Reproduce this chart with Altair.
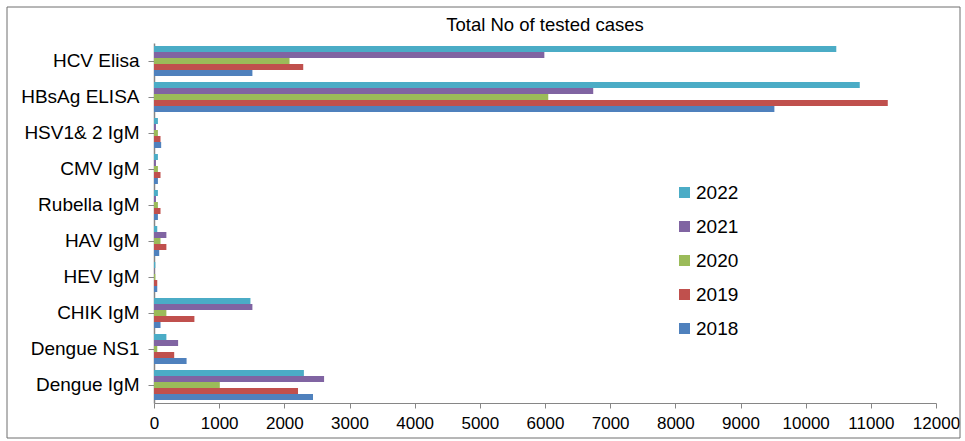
import altair as alt
import pandas as pd

categories = ["HCV Elisa", "HBsAg ELISA", "HSV1& 2 IgM", "CMV IgM", "Rubella IgM",
              "HAV IgM", "HEV IgM", "CHIK IgM", "Dengue NS1", "Dengue IgM"]
years = ["2022", "2021", "2020", "2019", "2018"]
v2022 = [10470, 10830, 60, 60, 60, 50, 20, 1480, 190, 2300]
v2021 = [5990, 6740, 30, 30, 30, 190, 5, 1510, 370, 2610]
v2020 = [2080, 6050, 60, 60, 60, 100, 20, 190, 50, 1010]
v2019 = [2290, 11260, 100, 100, 100, 190, 50, 620, 310, 2210]
v2018 = [1510, 9520, 110, 60, 60, 80, 50, 100, 500, 2440]
colors = ["#4BACC6", "#8064A2", "#9BBB59", "#C0504D", "#4F81BD"]
title_text = "Total No of tested cases"

series = {"2022": v2022, "2021": v2021, "2020": v2020, "2019": v2019, "2018": v2018}
rows = []
for y in years:
    for c, v in zip(categories, series[y]):
        rows.append({"test": c, "year": y, "value": v})
df = pd.DataFrame(rows)

FONT = "Liberation Sans"

bars = alt.Chart(df).mark_bar().encode(
    y=alt.Y("test:N", sort=categories,
            scale=alt.Scale(paddingInner=1/6, paddingOuter=1/12),
            axis=alt.Axis(title=None, labelFontSize=19, labelFont=FONT, labelColor="#000",
                          tickSize=6, labelPadding=9, domainColor="#868686",
                          tickColor="#868686", domainWidth=1.5)),
    yOffset=alt.YOffset("year:N", sort=years, scale=alt.Scale(domain=years, paddingInner=0, paddingOuter=0)),
    x=alt.X("value:Q", scale=alt.Scale(domain=[0, 12000], nice=False),
            axis=alt.Axis(title=None, values=list(range(0, 12001, 1000)), format="d",
                          grid=False, labelFontSize=17, labelFont=FONT, labelOverlap=False,
                          labelFlush=False, labelBound=False,
                          labelColor="#000", tickSize=5, labelPadding=7,
                          domainColor="#868686", tickColor="#868686")),
    color=alt.Color("year:N", scale=alt.Scale(domain=years, range=colors),
                    legend=alt.Legend(orient="none", legendX=521, legendY=140, title=None,
                                      symbolType="square", symbolSize=121, symbolStrokeWidth=0,
                                      labelFontSize=19, labelFont=FONT, labelColor="#000",
                                      rowPadding=14, labelOffset=2, padding=0)),
)

border = alt.Chart(alt.Data(values=[{}])).mark_rect(
    fillOpacity=0, stroke="#6f6f6f", strokeWidth=1
).encode(x=alt.value(-147), x2=alt.value(806), y=alt.value(-36), y2=alt.value(395))

title = alt.Chart(alt.Data(values=[{"t": title_text}])).mark_text(
    font=FONT, fontSize=18.5, color="#000", baseline="middle", align="center"
).encode(text="t:N", x=alt.value(391), y=alt.value(-18))

chart = alt.layer(border, title, bars).properties(
    width=782, height=360,
    autosize=alt.AutoSizeParams(type="none"),
    padding={"left": 154, "top": 43, "right": 29, "bottom": 38},
).configure_view(stroke=None)

chart.save("out.html", embed_options={"renderer": "svg", "actions": False})
